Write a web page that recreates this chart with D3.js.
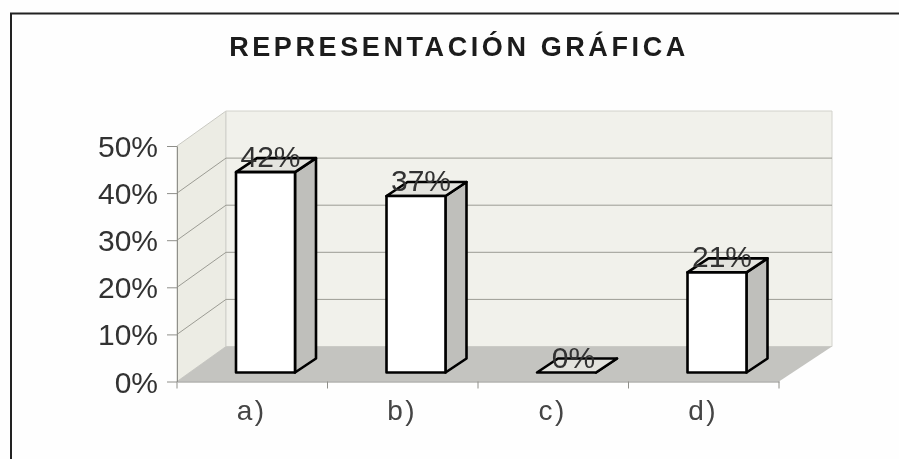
<!DOCTYPE html>
<html><head><meta charset="utf-8">
<script src="https://cdn.jsdelivr.net/npm/d3@7"></script>
<style>html,body{margin:0;padding:0;background:#fefefe}svg{display:block}</style>
</head><body><svg id="c" width="899" height="459"></svg>
<script>
const titleText = "REPRESENTACIÓN GRÁFICA";
const categories = ["a)", "b)", "c)", "d)"];
const values = [42, 37, 0, 21];
const valueLabels = ["42%", "37%", "0%", "21%"];
const yTicks = [0, 10, 20, 30, 40, 50];
const labelShift = [5, 5, 7, 5];

const left = 177, right = 779, front0 = 381.5, front50 = 146;
const wallDx = 49, wallDy = 35, barDx = 21, barDy = 14;

const svg = d3.select("#c");
svg.append("defs").append("filter").attr("id","soft").append("feGaussianBlur").attr("stdDeviation",0.45);
const g = svg.append("g").attr("filter","url(#soft)");
const x = d3.scaleBand().domain(categories).range([left, right]);
const y = d3.scaleLinear().domain([0, 50]).range([front0, front50]);
const yBar = d3.scaleLinear().domain([0, 50]).range([372.5, 372.5 - 238.5]);
const barW = 59, barOff = 59;
const poly = pts => pts.map(p => p.join(",")).join(" ");

// frame
g.append("path").attr("d", `M11,${459}V13.5H899`).attr("fill","none").attr("stroke","#222").attr("stroke-width",2);

// title
g.append("text").attr("x",459).attr("y",56).attr("text-anchor","middle")
 .attr("font-family","Liberation Sans, Arial, sans-serif").attr("font-weight","bold").attr("font-size",27)
 .attr("letter-spacing",3.6).attr("fill","#1a1a1a").text(titleText);

// walls
g.append("polygon").attr("points",poly([[left,y(0)],[left,y(50)],[left+wallDx,y(50)-wallDy],[left+wallDx,y(0)-wallDy]]))
 .attr("fill","#ecece4").attr("stroke","#c9c9c2");
g.append("polygon").attr("points",poly([[left+wallDx,y(0)-wallDy],[left+wallDx,y(50)-wallDy],[right+wallDx+4,y(50)-wallDy],[right+wallDx+4,y(0)-wallDy]]))
 .attr("fill","#f1f1eb").attr("stroke","#d2d2cc");
g.append("polygon").attr("points",poly([[left,y(0)],[left+wallDx,y(0)-wallDy],[right+wallDx+4,y(0)-wallDy],[right,y(0)]]))
 .attr("fill","#c4c4c0");

// gridlines
const gridVals = yTicks.slice(1, 5);
g.selectAll(".gb").data(gridVals).join("line").attr("x1",left+wallDx).attr("x2",right+wallDx+4)
 .attr("y1",d=>y(d)-wallDy).attr("y2",d=>y(d)-wallDy).attr("stroke","#9c9c94");
g.selectAll(".gs").data(gridVals).join("line").attr("x1",left).attr("x2",left+wallDx)
 .attr("y1",d=>y(d)).attr("y2",d=>y(d)-wallDy).attr("stroke","#9c9c94");

// axes
const yAxis = g.append("g").attr("transform",`translate(${left},0)`)
 .call(d3.axisLeft(y).tickValues(yTicks).tickFormat(d=>d+"%").tickSize(10).tickSizeOuter(0).tickPadding(9));
const xAxis = g.append("g").attr("transform",`translate(0,${front0})`)
 .call(d3.axisBottom(x).tickSize(0).tickSizeOuter(0).tickPadding(0));
xAxis.selectAll("text").remove();
xAxis.selectAll(".tick line").remove();
[yAxis,xAxis].forEach(a=>{a.selectAll("path,line").attr("stroke","#8f8f8a");});
g.selectAll(".xt").data(categories).join("line")
 .attr("x1",d=>x(d)+x.bandwidth()).attr("x2",d=>x(d)+x.bandwidth())
 .attr("y1",front0).attr("y2",front0+7).attr("stroke","#8f8f8a");
g.append("line").attr("x1",left).attr("x2",left).attr("y1",front0).attr("y2",front0+7).attr("stroke","#8f8f8a");
yAxis.selectAll("text").attr("font-family","Liberation Sans, Arial, sans-serif").attr("font-size",30)
 .attr("fill","#333").attr("dy","0.35em");

// category labels
g.selectAll(".cat").data(categories).join("text")
 .attr("x",d=>x(d)+x.bandwidth()/2-0.5).attr("y",420).attr("text-anchor","middle")
 .attr("font-family","Liberation Sans, Arial, sans-serif").attr("font-size",28).attr("letter-spacing",2.5)
 .attr("fill","#444").text(d=>d);

// bars
const bars = g.selectAll(".bar").data(categories.map((c,i)=>({c,v:values[i],l:valueLabels[i],s:labelShift[i]}))).join("g");
const bx = d => x(d.c)+barOff;
const style = s => s.attr("stroke","#000").attr("stroke-width",2.6).attr("stroke-linejoin","round");
bars.append("polygon").attr("points",d=>poly([[bx(d)+barW,yBar(d.v)],[bx(d)+barW+barDx,yBar(d.v)-barDy],[bx(d)+barW+barDx,yBar(0)-barDy],[bx(d)+barW,yBar(0)]]))
 .attr("fill","#bfbfbb").call(style);
bars.append("polygon").attr("points",d=>poly([[bx(d),yBar(d.v)],[bx(d)+barDx,yBar(d.v)-barDy],[bx(d)+barW+barDx,yBar(d.v)-barDy],[bx(d)+barW,yBar(d.v)]]))
 .attr("fill","#e3e3de").call(style);
bars.append("rect").attr("x",bx).attr("y",d=>yBar(d.v)).attr("width",barW).attr("height",d=>yBar(0)-yBar(d.v))
 .attr("fill","#fff").call(style);
bars.append("text").attr("x",d=>bx(d)+barW/2+d.s).attr("y",d=>yBar(d.v)-5).attr("text-anchor","middle")
 .attr("font-family","Liberation Sans, Arial, sans-serif").attr("font-size",30).attr("fill","#333").text(d=>d.l);
</script></body></html>
